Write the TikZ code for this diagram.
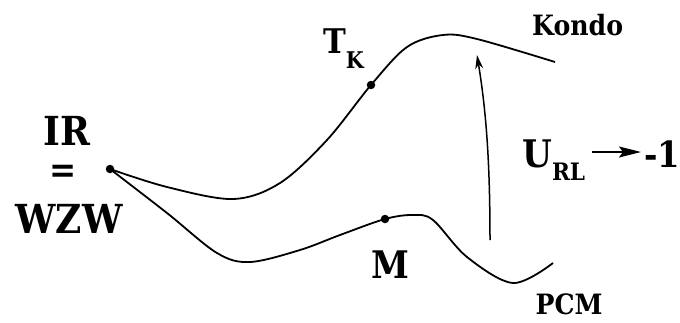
\documentclass[tikz,border=0pt]{standalone}
\usepackage{fontspec}
\newfontfamily\lblfont{DejaVu Serif}[FakeStretch=0.9]
\usetikzlibrary{arrows.meta}
\newcommand{\fsz}[1]{\fontsize{#1}{#1}\selectfont}
\begin{document}
\begin{tikzpicture}[x=1pt,y=-1pt,
  curve/.style={line width=1.8pt, line join=round},
  lbl/.style={inner sep=0pt, font=\lblfont\bfseries},
  dot/.style={circle, fill=black, inner sep=0pt, minimum size=8.5pt}]
\useasboundingbox (0,0) rectangle (680,322);
% labels
\node[lbl, anchor=base] (ir) at (67,145) {\fsz{40}IR};
\node[lbl, anchor=base] (eq) at (63,182) {\fsz{36}=};
\node[lbl, anchor=base] (wzw) at (69,233) {\fsz{40}WZW};
\node[lbl, anchor=base west] (tk) at (323,53) {\fsz{34}T\raisebox{-15pt}{\fsz{23}K}};
\node[lbl, anchor=base west] (kondo) at (532,35) {\fsz{28}Kondo};
\node[lbl, anchor=base] (m) at (390,278) {\fsz{38}M};
\node[lbl, anchor=base] (pcm) at (569,314) {\fsz{28}PCM};
\node[lbl, anchor=base west] (url) at (522,167) {\fsz{38}U\raisebox{-13pt}{\fsz{24}RL}};
\node[lbl, anchor=base west] (m1) at (644,167) {\fsz{36}-1};
% points
\node[dot] (p0) at (110,169) {};
\node[dot] (pt) at (371,85) {};
\node[dot] (pm) at (385,219) {};
\coordinate (kend) at (555,62);
\coordinate (pend) at (553,263);
% curves
\draw[curve] plot[smooth, tension=0.55] coordinates {(p0.center) (167,187) (233,199) (280,183) (327,140) (pt.center) (407,47) (443,35) (477,39) (kend)};
\draw[curve] plot[smooth, tension=0.55] coordinates {(p0.center) (167,213) (217,253) (250,262) (300,250) (340,235) (pm.center) (413,215) (433,220) (467,257) (513,283) (pend)};
% flow arrow
\coordinate (fa) at (490,240);
\coordinate (fb) at (477,55);
\draw[line width=1.5pt, -{Stealth[length=14pt,width=8pt]}] (fa) .. controls (490,160) and (486,110) .. (fb);
% U_RL arrow
\coordinate (ua) at (592,152);
\coordinate (ub) at (641,152);
\draw[line width=1.8pt, -{Stealth[length=22pt,width=11pt,inset=4pt]}] (ua) -- (ub);
\end{tikzpicture}
\end{document}
